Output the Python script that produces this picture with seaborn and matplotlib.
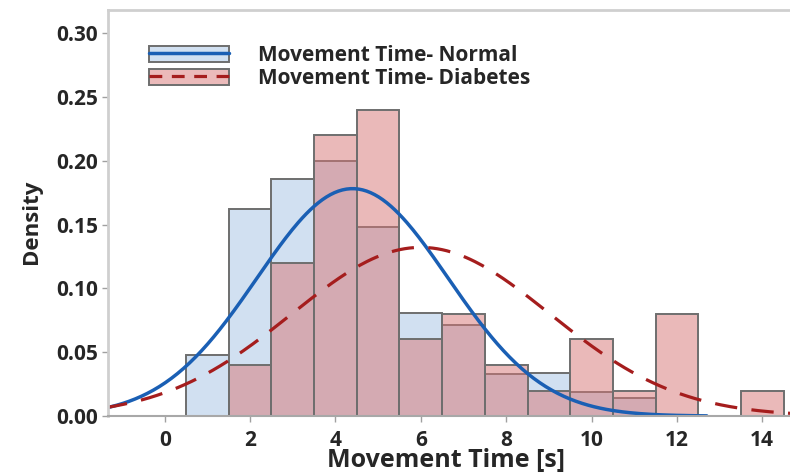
import numpy as np
import pandas as pd
import seaborn as sns
import matplotlib.pyplot as plt
from matplotlib.patches import Patch
from matplotlib.lines import Line2D

# bin centres (bin width 1 s) and density per bin
bin_centres = [1, 2, 3, 4, 5, 6, 7, 8, 9, 10, 11, 12, 13, 14]
density_normal = [0.048, 0.162, 0.186, 0.200, 0.148, 0.081, 0.071, 0.033, 0.034, 0.019, 0.014, 0.0, 0.0, 0.0]
density_diabetes = [0.0, 0.040, 0.120, 0.220, 0.240, 0.060, 0.080, 0.040, 0.020, 0.060, 0.020, 0.080, 0.0, 0.020]

# fitted normal curves (mean, sd)
fit_normal = (4.4, 2.24)
fit_diabetes = (6.0, 3.02)

x_ticks = [0, 2, 4, 6, 8, 10, 12, 14]
y_ticks = [0.00, 0.05, 0.10, 0.15, 0.20, 0.25, 0.30]

sns.set_style("white")
plt.rcParams['font.family'] = ['Open Sans', 'DejaVu Sans']

df = pd.DataFrame({
    "t": bin_centres * 2,
    "w": density_normal + density_diabetes,
    "group": ["Normal"] * len(bin_centres) + ["Diabetes"] * len(bin_centres),
})
edges = [c - 0.5 for c in bin_centres] + [bin_centres[-1] + 0.5]

fig = plt.figure(figsize=(7.9, 4.75), dpi=100)
ax = fig.add_axes([0.1367, 0.124, 0.8633, 0.855])

edge_col = "#6e6e6e"
sns.histplot(data=df[df.group == "Normal"], x="t", weights="w", bins=edges,
             color="#d1e0f1", alpha=1.0, edgecolor=edge_col, linewidth=1.4, ax=ax)
sns.histplot(data=df[df.group == "Diabetes"], x="t", weights="w", bins=edges,
             color="#d77575", alpha=0.5, edgecolor=edge_col, linewidth=1.4, ax=ax)

def pdf(x, m, s):
    return np.exp(-0.5 * ((x - m) / s) ** 2) / (s * np.sqrt(2 * np.pi))

xs1 = np.linspace(-1.4, 12.7, 300)
xs2 = np.linspace(-1.4, 15.0, 300)
sns.lineplot(x=xs1, y=pdf(xs1, *fit_normal), color="#1a5fb4", lw=2.5, ax=ax)
ax.plot(xs2, pdf(xs2, *fit_diabetes), color="#a51d1d", lw=2.3, ls=(0, (7, 4.5)))

ax.set_xlim(-1.33, 14.65)
ax.set_ylim(0, 0.318)
ax.set_xticks(x_ticks)
ax.set_yticks(y_ticks)
ax.set_yticklabels([f"{v:.2f}" for v in y_ticks])
ax.tick_params(axis="both", labelsize=15, length=4, width=1, color="#a0a0a0")
for lab in ax.get_xticklabels() + ax.get_yticklabels():
    lab.set_fontweight("bold")
ax.tick_params(axis="x", pad=6)
ax.tick_params(axis="y", pad=3)
ax.tick_params(bottom=True, left=True)

ax.set_xlabel("Movement Time [s]", fontsize=18, fontweight="bold")
ax.xaxis.label.set_va("baseline")
ax.xaxis.set_label_coords(0.496, -0.126)
ax.set_ylabel("Density", fontsize=16, fontweight="bold")
ax.yaxis.set_label_coords(-0.097, 0.478)

for side in ["left", "top"]:
    ax.spines[side].set_color("#cfcfcf")
    ax.spines[side].set_linewidth(2)
ax.spines["bottom"].set_color("#a8a8a8")
ax.spines["bottom"].set_linewidth(1.5)
ax.spines["right"].set_visible(False)

h1 = (Patch(facecolor="#d1e0f1", edgecolor=edge_col, lw=1.4),
      Line2D([], [], color="#1a5fb4", lw=2.5))
h2 = (Patch(facecolor="#ebbaba", edgecolor=edge_col, lw=1.4),
      Line2D([], [], color="#a51d1d", lw=2.3, ls=(0, (4, 3))))
leg = ax.legend([h1, h2], ["Movement Time- Normal", "Movement Time- Diabetes"],
                loc="upper left", bbox_to_anchor=(0.033, 0.96), frameon=False,
                prop={"weight": "bold", "size": 15}, handlelength=3.85,
                handleheight=0.8, handletextpad=1.35, labelspacing=0.1)

fig.savefig("out.png", dpi=100)
